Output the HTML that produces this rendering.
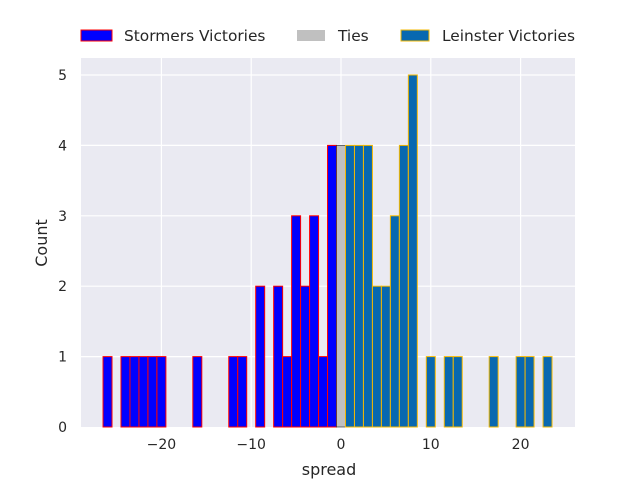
<!DOCTYPE html>
<html><head><meta charset="utf-8"><style>body{margin:0;background:#fff}svg{display:block;font-family:"DejaVu Sans","Liberation Sans",sans-serif}</style></head><body>
<svg width="640" height="480" xmlns="http://www.w3.org/2000/svg">
<rect x="81" y="58" width="494" height="369" fill="#eaeaf2"/>
<g stroke="#fff" stroke-width="1.2">
<line x1="161.4" y1="58" x2="161.4" y2="427"/><line x1="251.2" y1="58" x2="251.2" y2="427"/><line x1="341" y1="58" x2="341" y2="427"/><line x1="430.8" y1="58" x2="430.8" y2="427"/><line x1="520.6" y1="58" x2="520.6" y2="427"/>
<line x1="81" y1="356.6" x2="575" y2="356.6"/><line x1="81" y1="286.2" x2="575" y2="286.2"/><line x1="81" y1="215.8" x2="575" y2="215.8"/><line x1="81" y1="145.4" x2="575" y2="145.4"/><line x1="81" y1="75" x2="575" y2="75"/>
</g>
<g fill="#0000ff" stroke="#ff0000" stroke-width="1">
<rect x="103.03" y="356.6" width="8.98" height="70.4"/>
<rect x="120.99" y="356.6" width="8.98" height="70.4"/>
<rect x="129.97" y="356.6" width="8.98" height="70.4"/>
<rect x="138.95" y="356.6" width="8.98" height="70.4"/>
<rect x="147.93" y="356.6" width="8.98" height="70.4"/>
<rect x="156.91" y="356.6" width="8.98" height="70.4"/>
<rect x="192.83" y="356.6" width="8.98" height="70.4"/>
<rect x="228.75" y="356.6" width="8.98" height="70.4"/>
<rect x="237.73" y="356.6" width="8.98" height="70.4"/>
<rect x="255.69" y="286.2" width="8.98" height="140.8"/>
<rect x="273.65" y="286.2" width="8.98" height="140.8"/>
<rect x="282.63" y="356.6" width="8.98" height="70.4"/>
<rect x="291.61" y="215.8" width="8.98" height="211.2"/>
<rect x="300.59" y="286.2" width="8.98" height="140.8"/>
<rect x="309.57" y="215.8" width="8.98" height="211.2"/>
<rect x="318.55" y="356.6" width="8.98" height="70.4"/>
<rect x="327.53" y="145.4" width="8.98" height="281.6"/>
</g>
<rect x="336.51" y="145.4" width="8.98" height="281.6" fill="#c0c0c0" stroke="#222" stroke-width="0.6"/>
<g fill="#0868b0" stroke="#f5b800" stroke-width="1">
<rect x="345.49" y="145.4" width="8.98" height="281.6"/>
<rect x="354.47" y="145.4" width="8.98" height="281.6"/>
<rect x="363.45" y="145.4" width="8.98" height="281.6"/>
<rect x="372.43" y="286.2" width="8.98" height="140.8"/>
<rect x="381.41" y="286.2" width="8.98" height="140.8"/>
<rect x="390.39" y="215.8" width="8.98" height="211.2"/>
<rect x="399.37" y="145.4" width="8.98" height="281.6"/>
<rect x="408.35" y="75" width="8.98" height="352"/>
<rect x="426.31" y="356.6" width="8.98" height="70.4"/>
<rect x="444.27" y="356.6" width="8.98" height="70.4"/>
<rect x="453.25" y="356.6" width="8.98" height="70.4"/>
<rect x="489.17" y="356.6" width="8.98" height="70.4"/>
<rect x="516.11" y="356.6" width="8.98" height="70.4"/>
<rect x="525.09" y="356.6" width="8.98" height="70.4"/>
<rect x="543.05" y="356.6" width="8.98" height="70.4"/>
</g>
<g font-size="14" fill="#262626" text-anchor="middle">
<text x="161.4" y="449">−20</text><text x="251.2" y="449">−10</text><text x="341" y="449">0</text><text x="430.8" y="449">10</text><text x="520.6" y="449">20</text>
<text x="329" y="475" font-size="16">spread</text>
</g>
<g font-size="14" fill="#262626" text-anchor="end">
<text x="67" y="432">0</text><text x="67" y="361.6">1</text><text x="67" y="291.2">2</text><text x="67" y="220.8">3</text><text x="67" y="150.4">4</text><text x="67" y="80">5</text>
</g>
<text transform="translate(47,243) rotate(-90)" font-size="16" fill="#262626" text-anchor="middle">Count</text>
<rect x="81" y="30" width="31" height="11" fill="#0000ff" stroke="#ff0000"/>
<text x="124" y="41" font-size="15.4" fill="#262626">Stormers Victories</text>
<rect x="297" y="30" width="28" height="11" fill="#c0c0c0"/>
<text x="338" y="41" font-size="15.4" fill="#262626">Ties</text>
<rect x="401" y="30" width="28" height="11" fill="#0868b0" stroke="#f5b800"/>
<text x="442" y="41" font-size="15.4" fill="#262626">Leinster Victories</text>
</svg>
</body></html>
